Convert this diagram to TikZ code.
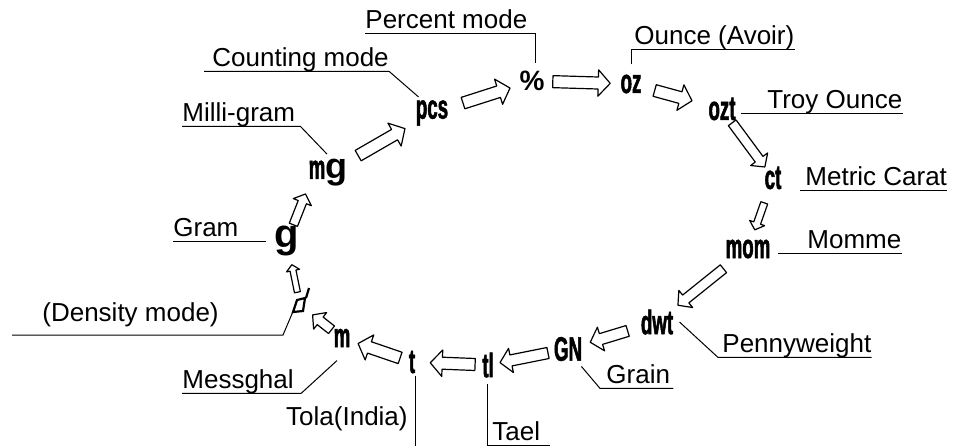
\documentclass[tikz,border=0pt]{standalone}
\usepackage{fontspec}
\setmainfont{Liberation Sans}
\newfontfamily\dispfont[FakeStretch=0.55,FakeBold=1.5]{Liberation Sans}
\usetikzlibrary{calc}

\tikzset{
  unit/.style={inner sep=0pt, font=\dispfont\bfseries\fontsize{17}{17}\selectfont},
  lbl/.style={inner sep=0pt, text height=9.4pt, text depth=2.2pt, font=\fontsize{13}{15}\selectfont},
  leader/.style={line width=0.5pt},
  unitarrow/.style={draw, line width=0.6pt, fill=white, line join=round}
}

\begin{document}
\begin{tikzpicture}[x=0.5pt, y=-0.5pt]
    \useasboundingbox (0,0) rectangle (956,446);
    % display symbols
    \node[unit] (pcs) at (432,113) {pcs};
    \node[inner sep=0pt, font=\bfseries\fontsize{14}{14}\selectfont] (pct) at (532,81) {\%};
    \node[unit] (oz) at (631,84) {oz};
    \node[unit] (ozt) at (722,109) {ozt};
    \node[unit] (ct) at (773,178) {ct};
    \node[unit] (mom) at (748,249) {mom};
    \node[unit] (dwt) at (657,322) {dwt};
    \node[unit] (GN) at (568,349) {GN};
    \node[unit] (tl) at (488,365) {tl};
    \node[unit] (t) at (412,362) {t};
    \node[unit] (m) at (342,338) {m};
    \node[inner sep=0pt, minimum width=7pt, minimum height=7pt] (dens) at (300,305) {};
    \draw[line width=1.1pt] (293,312) -- (297,300) -- (305,298) -- (303,311) -- cycle
        (306,298) -- (309,288);
    \node[inner sep=0pt, font=\bfseries\fontsize{20}{20}\selectfont] (g) at (287,241) {g};
    \node[unit] (mg) at (328,173) {m{\normalfont\bfseries\fontsize{18}{18}\selectfont g}};
    % cycle arrows
    \foreach \a/\b/\s/\e/\w in {pcs/pct/0.31/0.78/3, pct/oz/0.21/0.79/3, oz/ozt/0.26/0.67/3,
        ozt/ct/0.2/0.84/2.4, ct/mom/0.35/0.73/1.8, mom/dwt/0.27/0.77/2.5, dwt/GN/0.33/0.75/2.8,
        GN/tl/0.25/0.85/2.8, tl/t/0.17/0.76/3, t/m/0.17/0.77/3, m/dens/0.25/0.7/2.4,
        dens/g/0.2/0.63/1.5, g/mg.south west/0.3/0.87/2.2, mg/pcs/0.29/0.74/3} {
        \coordinate (as) at ($(\a)!\s!(\b)$);
        \coordinate (ae) at ($(\a)!\e!(\b)$);
        \coordinate (ah) at ($(ae)!2*\w pt!(as)$);
        \draw[unitarrow] ($(as)!\w pt!90:(ae)$) -- ($(ah)!\w pt!90:(ae)$)
            -- ($(ah)!2.2*\w pt!90:(ae)$) -- (ae) -- ($(ah)!2.2*\w pt!-90:(ae)$)
            -- ($(ah)!\w pt!-90:(ae)$) -- ($(as)!\w pt!-90:(ae)$) -- cycle;
    }
    % labels
    \node[lbl, anchor=base west] (lpct) at (365,28.6) {Percent mode};
    \draw[leader] (lpct.south west) -| ([shift={(3,-8)}]pct.north);
    \node[lbl, anchor=base west] (lcnt) at (212,66.6) {Counting mode};
    \draw[leader] ([xshift=-4pt]lcnt.south west) -- (lcnt.south east) -- ([shift={(3,-3)}]pcs.north west);
    \node[lbl, anchor=base west] (lmg) at (182,121.6) {Milli-gram};
    \draw[leader] (lmg.south west) -- ([xshift=2.5pt]lmg.south east) -- ([shift={(-1,-5)}]mg.north);
    \node[lbl, anchor=base west] (lgram) at (173,236.6) {Gram};
    \draw[leader, shorten >=4pt] (lgram.south west) -- (lgram.south west -| g.west);
    \node[lbl, anchor=base west] (ldens) at (42,321.6) {(Density mode)};
    \coordinate (densend) at (12,335);
    \draw[leader] (densend) -- (283,335) -- (dens.south west);
    \node[lbl, anchor=base west] (lmes) at (182,388.6) {Messghal};
    \draw[leader] (lmes.south west) -- ([xshift=3.5pt]lmes.south east) -- ([shift={(-5,13)}]m.south);
    \node[lbl, anchor=base east] (ltola) at (408,425.6) {Tola(India)};
    \coordinate (tolaend) at (415,446);
    \draw[leader] ([shift={(3,2)}]t.south) -- (tolaend);
    \node[lbl, anchor=base west] (ltael) at (492,440.6) {Tael};
    \draw[leader] ([shift={(-1,6)}]tl.south) |- ([xshift=4.5pt]ltael.south east);
    \node[lbl, anchor=base west] (lgrain) at (606,383.6) {Grain};
    \draw[leader] ([shift={(-1,5)}]GN.south east) -- ([xshift=-3pt]lgrain.south west) -- ([xshift=1.5pt]lgrain.south east);
    \node[lbl, anchor=base west] (lpen) at (722,352.6) {Pennyweight};
    \draw[leader] ([xshift=3pt]dwt.east) -- ([xshift=-2pt]lpen.south west) -- (lpen.south east);
    \node[lbl, anchor=base west] (lmom) at (807,248.6) {Momme};
    \draw[leader, shorten <=3.5pt] (mom.east |- lmom.south) -- (lmom.south east);
    \node[lbl, anchor=base west] (lct) at (805,185.6) {Metric Carat};
    \draw[leader, shorten <=9pt] (ct.east |- lct.south) -- (lct.south east);
    \node[lbl, anchor=base west] (ltroy) at (767,108.6) {Troy Ounce};
    \draw[leader, shorten <=2.5pt] (ozt.east |- ltroy.south) -- (ltroy.south east);
    \node[lbl, anchor=base west] (loz) at (634,44.6) {Ounce (Avoir)};
    \draw[leader] ([shift={(0,-10)}]oz.north) |- (loz.south east);
\end{tikzpicture}
\end{document}
